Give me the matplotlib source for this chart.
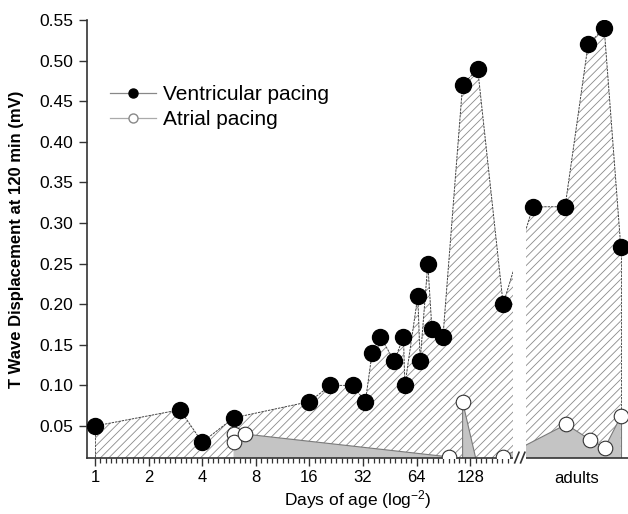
import numpy as np
import matplotlib
matplotlib.use('Agg')
import matplotlib.pyplot as plt
from matplotlib.lines import Line2D
from matplotlib.patches import Rectangle
from matplotlib.ticker import FixedLocator
import matplotlib.transforms as mtransforms

plt.rcParams['font.family'] = ['Liberation Sans', 'DejaVu Sans']
plt.rcParams['mathtext.default'] = 'regular'
plt.rcParams['hatch.linewidth'] = 0.6

# ventricular pacing, pups (days of age)
vent_days = [1, 3, 4, 6, 16, 21, 28, 33, 36, 40, 48, 54, 55, 65, 67, 74, 78, 90, 116, 141, 196]
vent_vals = [0.05, 0.07, 0.03, 0.06, 0.08, 0.10, 0.10, 0.08, 0.14, 0.16, 0.13, 0.16, 0.10,
             0.21, 0.13, 0.25, 0.17, 0.16, 0.47, 0.49, 0.20]
# atrial pacing, pups
atr_days = [6, 6, 7, 97, 116, 116, 141, 196]
atr_vals = [0.04, 0.03, 0.04, 0.012, 0.0, 0.08, 0.0, 0.012]

# adults (placed in the adult panel, axis units past the break)
adult_pos = [8.17, 8.77, 9.20, 9.50, 9.81]
vent_adult = [0.32, 0.32, 0.52, 0.54, 0.27]
atr_adult_pos = [8.79, 9.24, 9.51, 9.81]
atr_adult = [0.052, 0.033, 0.023, 0.062]

day_ticks = [1, 2, 4, 8, 16, 32, 64, 128]

xmin, xmax = -0.149, 9.944
ymin, ymax = 0.0106, 0.55
brk_lo, brk_hi = 7.80, 8.04

vx = np.concatenate([np.log2(vent_days), adult_pos])
vy = np.concatenate([vent_vals, vent_adult])
ax_ = np.concatenate([np.log2(atr_days), atr_adult_pos])
ay = np.concatenate([atr_vals, atr_adult])

fig = plt.figure(figsize=(6.28, 5.14), dpi=100)
ax = fig.add_axes([87 / 628, 1 - 458 / 514, 541 / 628, 438 / 514])

ax.fill_between(vx, vy, 0, facecolor='white', edgecolor='#8a8a8a', hatch='////', linewidth=0, zorder=1)
ax.fill_between(ax_, ay, 0, facecolor='#c4c4c4', edgecolor='none', linewidth=0, zorder=1.5)
ax.plot(vx, vy, color='#444444', lw=0.7, dashes=(2.5, 1), zorder=2)
ax.plot(ax_, ay, color='#7a7a7a', lw=0.8, zorder=2)
# vertical closing edges at the ends of the filled areas
for xe, ye in ((vx[0], vy[0]), (vx[-1], vy[-1])):
    ax.plot([xe, xe], [0, ye], color='#555555', lw=0.7, dashes=(2.5, 1), zorder=2)
ax.plot([ax_[-1], ax_[-1]], [0, ay[-1]], color='#7a7a7a', lw=0.8, zorder=2)

ax.plot(vx, vy, 'o', ms=11.5, mfc='black', mec='black', zorder=4)
ax.plot(ax_, ay, 'o', ms=10.5, mfc='white', mec='#333333', mew=0.8, zorder=4)

# axis break
blend = mtransforms.blended_transform_factory(ax.transData, ax.transAxes)
ax.add_patch(Rectangle((brk_lo, -0.02), brk_hi - brk_lo, 1.02, transform=blend,
                       facecolor='white', edgecolor='none', zorder=3, clip_on=False))
for x0 in (7.83, 7.94):
    ax.plot([x0, x0 + 0.08], [-0.011, 0.013], transform=blend, color='#333333',
            lw=1.2, clip_on=False, zorder=5)

ax.set_xlim(xmin, xmax)
ax.set_ylim(ymin, ymax)

ax.set_xticks(np.log2(day_ticks))
ax.set_xticklabels([str(d) for d in day_ticks], fontsize=12)
minor = [m for m in np.round(np.arange(0.1, 7.75, 0.1), 2) if abs(m - round(m)) > 1e-6]
ax.xaxis.set_minor_locator(FixedLocator(minor))
ax.tick_params(axis='x', which='major', direction='out', length=6, width=1, color='#333333', pad=3)
ax.tick_params(axis='x', which='minor', direction='out', length=3.5, width=0.9, color='#333333')

yt = np.arange(0.05, 0.551, 0.05)
ax.set_yticks(yt)
ax.set_yticklabels(['%.2f' % v for v in yt], fontsize=12.5)
ax.tick_params(axis='y', direction='out', length=6, width=1, color='#333333', pad=4)

for s in ('top', 'right'):
    ax.spines[s].set_visible(False)
for s in ('left', 'bottom'):
    ax.spines[s].set_color('#333333')
    ax.spines[s].set_linewidth(1.2)

ax.text((brk_hi + xmax) / 2, -0.03, 'adults', transform=blend, ha='center', va='top', fontsize=12)

ax.set_xlabel('Days of age (log$^{-2}$)', fontsize=12.5, labelpad=2)
ax.set_ylabel('T Wave Displacement at 120 min (mV)', fontsize=12, fontweight='bold', labelpad=11)

handles = [Line2D([], [], color='#888888', lw=0.9, marker='o', ms=6.5, mfc='black', mec='black'),
           Line2D([], [], color='#aaaaaa', lw=0.9, marker='o', ms=6.5, mfc='white', mec='#888888')]
fig.legend(handles, ['Ventricular pacing', 'Atrial pacing'], loc='upper left',
           bbox_to_anchor=(110 / 628, 1 - 85 / 514), frameon=False, fontsize=15,
           handlelength=2.2, handletextpad=0.35, labelspacing=0.3, borderpad=0, borderaxespad=0)

fig.savefig('out.png', dpi=100)
